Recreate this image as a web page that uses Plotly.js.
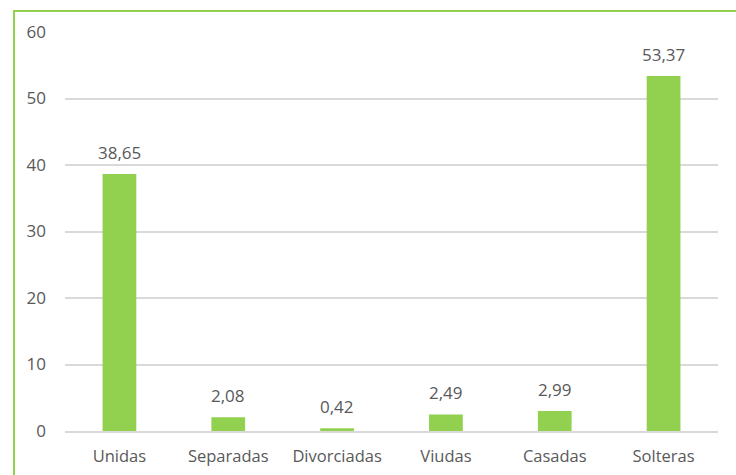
<!DOCTYPE html>
<html><head><meta charset="utf-8">
<script src="https://cdn.plot.ly/plotly-3.0.1.min.js"></script>
<style>
body{margin:0;background:#fff;}
#chart{width:736px;height:475px;position:absolute;left:0;top:0;}
#frame{position:absolute;left:13px;top:10px;width:723px;height:465px;border-top:2px solid #92D050;border-left:2px solid #92D050;pointer-events:none;}
</style></head>
<body>
<div id="chart"></div><div id="frame"></div>
<script>
const categories = ["Unidas","Separadas","Divorciadas","Viudas","Casadas","Solteras"];
const values = [38.65, 2.08, 0.42, 2.49, 2.99, 53.37];
const labels = ["38,65","2,08","0,42","2,49","2,99","53,37"];
const yTicks = [0,10,20,30,40,50,60];

const font = "'Open Sans', sans-serif";
const annotations = categories.map((c,i)=>({
  x:c, y:values[i], xref:'x', yref:'y', text:labels[i], showarrow:false,
  yanchor:'bottom', yshift:8, font:{family:font,size:17,color:'#595959'}
}));
Plotly.newPlot('chart', [{
  type:'bar', x:categories, y:values,
  marker:{color:'#92D050'}, hoverinfo:'none'
}], {
  width:736, height:475,
  margin:{l:65,r:18,t:32,b:44},
  paper_bgcolor:'rgba(0,0,0,0)', plot_bgcolor:'#fff',
  bargap:0.69, showlegend:false,
  font:{family:font,size:17,color:'#595959'},
  annotations:annotations,
  xaxis:{showgrid:false, showline:true, linecolor:'#d9d9d9', linewidth:2, ticks:'', ticklabelstandoff:9, tickfont:{size:16.5,color:'#595959'}},
  yaxis:{range:[0,60], tickvals:yTicks, showgrid:true, gridcolor:'#d9d9d9', gridwidth:2, zeroline:false, showline:false, ticks:'', ticklabelstandoff:18, tickfont:{size:17,color:'#595959'}}
}, {displayModeBar:false, staticPlot:true});
</script>
</body></html>
